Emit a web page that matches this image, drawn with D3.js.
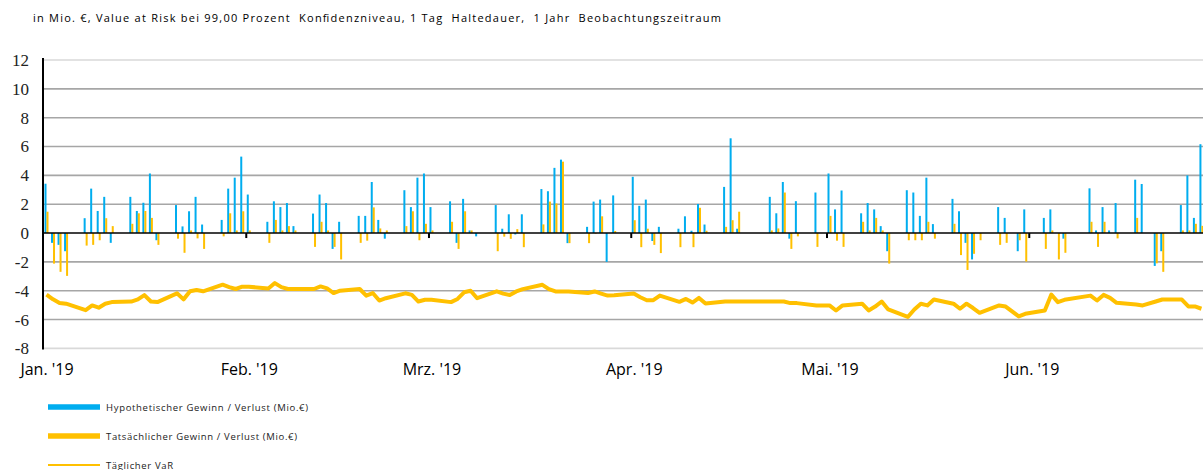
<!DOCTYPE html>
<html>
<head>
<meta charset="utf-8">
<script src="https://cdn.jsdelivr.net/npm/d3@7"></script>
<style>
	body { margin: 0; background: white; }
	svg { display: block; }
</style>
</head>
<body>
<script>
'use strict';

// trading days (Jan - Jun 2019)
const dates = [
	'2019-01-01','2019-01-02','2019-01-03','2019-01-04','2019-01-07','2019-01-08','2019-01-09','2019-01-10','2019-01-11',
	'2019-01-14','2019-01-15','2019-01-16','2019-01-17','2019-01-18','2019-01-21','2019-01-22','2019-01-23','2019-01-24',
	'2019-01-25','2019-01-28','2019-01-29','2019-01-30','2019-01-31','2019-02-01','2019-02-04','2019-02-05','2019-02-06',
	'2019-02-07','2019-02-08','2019-02-11','2019-02-12','2019-02-13','2019-02-14','2019-02-15','2019-02-18','2019-02-19',
	'2019-02-20','2019-02-21','2019-02-22','2019-02-25','2019-02-26','2019-02-27','2019-02-28','2019-03-01','2019-03-04',
	'2019-03-05','2019-03-06','2019-03-07','2019-03-08','2019-03-11','2019-03-12','2019-03-13','2019-03-14','2019-03-15',
	'2019-03-18','2019-03-19','2019-03-20','2019-03-21','2019-03-22','2019-03-25','2019-03-26','2019-03-27','2019-03-28',
	'2019-03-29','2019-04-01','2019-04-02','2019-04-03','2019-04-04','2019-04-05','2019-04-08','2019-04-09','2019-04-10',
	'2019-04-11','2019-04-12','2019-04-15','2019-04-16','2019-04-17','2019-04-22','2019-04-23','2019-04-24','2019-04-25',
	'2019-04-26','2019-04-29','2019-05-01','2019-05-02','2019-05-03','2019-05-06','2019-05-07','2019-05-08','2019-05-09',
	'2019-05-10','2019-05-13','2019-05-14','2019-05-15','2019-05-16','2019-05-17','2019-05-20','2019-05-21','2019-05-22',
	'2019-05-23','2019-05-24','2019-05-27','2019-05-28','2019-05-30','2019-05-31','2019-06-03','2019-06-04','2019-06-05',
	'2019-06-06','2019-06-10','2019-06-11','2019-06-12','2019-06-13','2019-06-14','2019-06-17','2019-06-18','2019-06-20',
	'2019-06-21','2019-06-24','2019-06-25','2019-06-26','2019-06-27'
];

// Hypothetischer Gewinn / Verlust (Mio. €)
const hypo = [
	3.42,-0.68,-0.82,-1.26,1.03,3.08,1.53,2.51,-0.68,
	2.51,1.53,2.1,4.13,-0.5,1.94,0.46,1.51,2.51,
	0.59,0.91,3.08,3.84,5.3,2.67,0.78,2.2,1.8,
	2.08,0.48,1.35,2.67,2.08,-1.1,0.78,1.19,1.19,
	3.54,0.91,-0.39,2.97,1.8,3.84,4.13,1.8,2.2,
	-0.68,2.37,0.18,-0.23,1.94,0.3,1.3,-0.1,1.3,
	3.05,2.9,4.52,5.09,-0.7,0.43,2.18,2.32,-2.0,
	2.61,3.9,1.89,2.32,-0.55,0.43,0.3,1.16,0.16,
	2.02,0.59,3.2,6.57,0.3,2.51,1.37,3.54,-0.39,
	2.21,2.81,4.13,1.64,2.95,1.37,2.08,1.64,0.48,
	-1.26,2.97,2.81,1.19,3.84,0.62,2.37,1.51,-0.68,
	-1.83,0,1.8,1.05,-1.26,1.64,1.05,1.64,0,
	-0.39,3.1,0.18,1.8,0.18,2.08,3.7,3.4,-2.28,
	-1.26,1.94,4.0,1.05,6.16
];

// Tatsächlicher Gewinn / Verlust (Mio. €)
const actual = [
	1.48,-2.12,-2.69,-2.97,-0.87,-0.82,-0.5,1.03,0.48,
	0.64,1.37,1.53,1.05,-0.82,-0.39,-1.37,0.18,-0.37,
	-1.1,-0.23,1.37,0.18,1.51,0.18,-0.68,0.91,0.18,
	0.48,0.18,-0.96,0.78,0.18,-0.96,-1.83,-0.68,-0.53,
	1.78,0.32,0.18,0.48,1.51,-0.5,0.64,0.18,0.78,
	-1.1,1.51,0.18,0,-1.26,-0.25,-0.4,0.27,-0.98,
	0.6,2.18,2.05,4.95,-0.7,-0.7,-0.05,1.16,0,
	0.14,0.89,-0.98,0.3,-0.82,-1.39,-0.98,0,-0.98,
	1.75,0.16,0.43,0.89,1.48,0.18,0.32,2.81,-1.1,
	-0.23,-0.96,1.19,-0.53,-0.96,0.78,0.18,1.05,0.18,
	-2.12,-0.5,-0.5,-0.5,0.78,-0.39,0.64,-1.53,-2.56,
	-1.44,-0.5,-0.82,-0.68,-0.5,-1.98,-1.1,0.18,-1.83,
	-1.37,0.78,-0.96,0.78,0,-0.37,1.05,0,-2.1,
	-2.69,0.18,0.18,0.64,0.5
];

// Täglicher VaR
const varDaily = [
	-4.27,-4.6,-4.85,-4.9,-5.35,-5.02,-5.18,-4.9,-4.79,
	-4.75,-4.6,-4.3,-4.75,-4.79,-4.18,-4.6,-4.04,-3.95,
	-4.04,-3.58,-3.75,-3.88,-3.72,-3.72,-3.85,-3.47,-3.75,
	-3.88,-3.88,-3.88,-3.7,-3.84,-4.16,-4.0,-3.88,-4.34,
	-4.16,-4.68,-4.52,-4.18,-4.29,-4.75,-4.63,-4.63,-4.79,
	-4.57,-4.11,-4.0,-4.52,-4.04,-4.2,-4.3,-4.05,-3.89,
	-3.59,-3.89,-4.05,-4.05,-4.05,-4.16,-4.05,-4.2,-4.34,
	-4.32,-4.2,-4.45,-4.66,-4.66,-4.34,-4.77,-4.57,-4.82,
	-4.5,-4.89,-4.75,-4.75,-4.75,-4.75,-4.75,-4.75,-4.86,
	-4.86,-5.02,-5.02,-5.37,-5.02,-4.9,-5.37,-5.1,-4.75,
	-5.3,-5.82,-5.3,-4.9,-5.02,-4.61,-4.9,-5.25,-4.9,
	-5.2,-5.53,-5.02,-5.1,-5.78,-5.6,-5.37,-4.27,-4.79,
	-4.63,-4.34,-4.68,-4.29,-4.5,-4.84,-4.95,-5.02,-4.75,
	-4.61,-4.61,-5.09,-5.09,-5.25
];

const yTicks = [12, 10, 8, 6, 4, 2, 0, -2, -4, -6, -8];
const monthStarts = ['2019-01-01','2019-02-01','2019-03-01','2019-04-01','2019-05-01','2019-06-01'];
const monthLabels = ["Jan. '19","Feb. '19","Mrz. '19","Apr. '19","Mai. '19","Jun. '19"];

const title = 'in Mio. €, Value at Risk bei 99,00 Prozent  Konfidenzniveau, 1 Tag  Haltedauer,  1 Jahr  Beobachtungszeitraum';
const legendItems = [
	'Hypothetischer Gewinn / Verlust (Mio.€)',
	'Tatsächlicher Gewinn / Verlust (Mio.€)',
	'Täglicher VaR'
];

const opts = {
	width: 1203,
	height: 470,
	left: 43,
	top: 60,
	bottom: 348.4,
	right: 1203,
	dayWidth: 6.525,
	blue: '#00adef',
	yellow: '#ffc000',
	grid: '#a6a6a6'
};

const parse = d3.utcParse('%Y-%m-%d');

const rows = dates.map((d, i) => ({
	date: parse(d),
	hypo: hypo[i],
	actual: actual[i],
	var: varDaily[i]
}));

const svg = d3.select('body').append('svg')
	.attr('width', opts.width)
	.attr('height', opts.height);

const x = d3.scaleUtc()
	.domain([parse('2019-01-01'), parse('2019-07-01')])
	.range([opts.left + 1, opts.left + 1 + 181 * opts.dayWidth]);

const y = d3.scaleLinear()
	.domain([-8, 12])
	.range([opts.bottom, opts.top]);

// title, stretched to the width it has in the original
svg.append('text')
	.attr('x', 33)
	.attr('y', 22)
	.attr('font-family', 'Open Sans, sans-serif')
	.attr('font-size', 11)
	.attr('fill', '#000')
	.attr('textLength', 688)
	.attr('lengthAdjust', 'spacing')
	.style('white-space', 'pre')
	.text(title);

// gridlines
svg.append('g')
	.selectAll('line')
	.data(yTicks.filter(t => t !== 0))
	.join('line')
	.attr('x1', opts.left)
	.attr('x2', opts.right)
	.attr('y1', d => y(d))
	.attr('y2', d => y(d))
	.attr('stroke', d => (d === 12 || d === -8) ? '#d9d9d9' : opts.grid)
	.attr('stroke-width', 1.6);

// y axis labels
svg.append('g')
	.selectAll('text')
	.data(yTicks)
	.join('text')
	.attr('x', 29)
	.attr('y', d => y(d))
	.attr('dy', '0.35em')
	.attr('text-anchor', 'end')
	.attr('font-family', 'Liberation Serif, serif')
	.attr('font-size', 17)
	.attr('fill', '#222')
	.text(d => d);

// bars, blue left and yellow right of each day
const bw = 2;
const bars = svg.append('g');

bars.selectAll('rect.hypo')
	.data(rows.filter(r => r.hypo !== 0))
	.join('rect')
	.attr('class', 'hypo')
	.attr('x', d => x(d.date) + 0.5)
	.attr('width', bw)
	.attr('y', d => Math.min(y(d.hypo), y(0)))
	.attr('height', d => Math.abs(y(d.hypo) - y(0)))
	.attr('fill', opts.blue);

bars.selectAll('rect.actual')
	.data(rows.filter(r => r.actual !== 0))
	.join('rect')
	.attr('class', 'actual')
	.attr('x', d => x(d.date) + 0.5 + bw)
	.attr('width', bw)
	.attr('y', d => Math.min(y(d.actual), y(0)))
	.attr('height', d => Math.abs(y(d.actual) - y(0)))
	.attr('fill', opts.yellow);

// zero line + month ticks
svg.append('line')
	.attr('x1', opts.left)
	.attr('x2', opts.right)
	.attr('y1', y(0))
	.attr('y2', y(0))
	.attr('stroke', '#000')
	.attr('stroke-width', 1.5);

svg.append('g')
	.selectAll('rect')
	.data(monthStarts.slice(1))
	.join('rect')
	.attr('x', d => x(parse(d)) - 1)
	.attr('y', y(0))
	.attr('width', 2)
	.attr('height', 5)
	.attr('fill', '#000');

// month labels
svg.append('g')
	.selectAll('text')
	.data(monthStarts)
	.join('text')
	.attr('x', d => x(parse(d)) + 3)
	.attr('y', 375)
	.attr('text-anchor', 'middle')
	.attr('font-family', 'Open Sans, sans-serif')
	.attr('font-size', 16)
	.attr('fill', '#000')
	.text((d, i) => monthLabels[i]);

// VaR line
const line = d3.line()
	.x(d => x(d.date) + 0.5 + bw)
	.y(d => y(d.var));

svg.append('path')
	.datum(rows)
	.attr('d', line)
	.attr('fill', 'none')
	.attr('stroke', opts.yellow)
	.attr('stroke-width', 4)
	.attr('stroke-linejoin', 'round');

// y axis
svg.append('line')
	.attr('x1', opts.left)
	.attr('x2', opts.left)
	.attr('y1', opts.top - 2)
	.attr('y2', opts.bottom + 1)
	.attr('stroke', '#000')
	.attr('stroke-width', 2);

// legend
const legendWidths = [202, 191, 67];
const legend = svg.append('g')
	.attr('transform', 'translate(48, 407)');

legendItems.forEach((label, i) => {
	let row = legend.append('g')
		.attr('transform', `translate(0, ${i * 29})`);

	row.append('line')
		.attr('x1', 0)
		.attr('x2', 52)
		.attr('y1', 0)
		.attr('y2', 0)
		.attr('stroke', i === 0 ? opts.blue : opts.yellow)
		.attr('stroke-width', i === 2 ? 2 : 5.5);

	row.append('text')
		.attr('x', 58)
		.attr('y', 3.5)
		.attr('font-family', 'Open Sans, sans-serif')
		.attr('font-size', 9.5)
		.attr('fill', '#222')
		.attr('textLength', legendWidths[i])
		.attr('lengthAdjust', 'spacing')
		.text(label);
});
</script>
</body>
</html>
